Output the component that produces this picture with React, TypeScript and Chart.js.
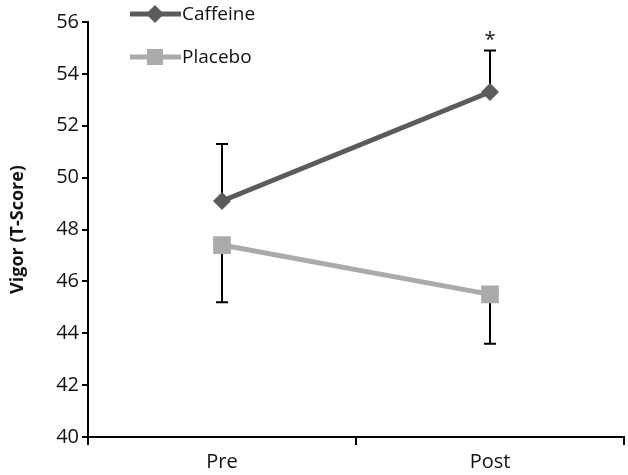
import React, { useEffect, useRef } from "react";
import { Chart, registerables } from "chart.js";

Chart.register(...registerables);

const categories = ["Pre", "Post"];
const caffeineValues = [49.1, 53.3];
const caffeineErrUp = [51.3, 54.9];
const placeboValues = [47.4, 45.5];
const placeboErrDown = [45.2, 43.6];
const significance = ["", "*"];
const yTicks = [40, 42, 44, 46, 48, 50, 52, 54, 56];

const FONT = "'Open Sans', 'Noto Sans', sans-serif";
const CAF = "#5b5b5b";
const PLA = "#ababab";

const errorBars = {
  id: "errorBars",
  beforeDatasetsDraw(chart: any) {
    const { ctx, scales } = chart;
    const x = scales.x;
    const y = scales.y;
    ctx.save();
    ctx.strokeStyle = "#000";
    ctx.lineWidth = 2;
    const draw = (vals: number[], ends: number[]) => {
      vals.forEach((v, i) => {
        const px = Math.round(x.getPixelForValue(i));
        const y0 = y.getPixelForValue(v);
        const y1 = y.getPixelForValue(ends[i]);
        ctx.beginPath();
        ctx.moveTo(px, y0);
        ctx.lineTo(px, y1);
        ctx.moveTo(px - 6, y1);
        ctx.lineTo(px + 6, y1);
        ctx.stroke();
      });
    };
    draw(caffeineValues, caffeineErrUp);
    draw(placeboValues, placeboErrDown);
    ctx.restore();
  },
  afterDraw(chart: any) {
    const { ctx, scales } = chart;
    const x = scales.x;
    const y = scales.y;
    ctx.save();
    ctx.fillStyle = "#111";
    ctx.font = `20px ${FONT}`;
    ctx.textAlign = "center";
    ctx.textBaseline = "middle";
    significance.forEach((s, i) => {
      if (!s) return;
      const px = x.getPixelForValue(i);
      const py = y.getPixelForValue(caffeineErrUp[i]) - 12;
      ctx.fillText(s, px, py + 2);
    });
    const items = [
      { label: "Caffeine", color: CAF, style: "diamond", yy: 14 },
      { label: "Placebo", color: PLA, style: "square", yy: 57 },
    ];
    items.forEach((it) => {
      ctx.strokeStyle = it.color;
      ctx.fillStyle = it.color;
      ctx.lineWidth = 5;
      ctx.beginPath();
      ctx.moveTo(130, it.yy);
      ctx.lineTo(181, it.yy);
      ctx.stroke();
      ctx.beginPath();
      if (it.style === "diamond") {
        ctx.moveTo(155 - 9, it.yy);
        ctx.lineTo(155, it.yy - 9);
        ctx.lineTo(155 + 9, it.yy);
        ctx.lineTo(155, it.yy + 9);
        ctx.closePath();
        ctx.fill();
      } else {
        ctx.fillRect(155 - 8, it.yy - 8, 16, 16);
      }
      ctx.fillStyle = "#111";
      ctx.font = `19px ${FONT}`;
      ctx.textAlign = "left";
      ctx.textBaseline = "middle";
      ctx.fillText(it.label, 182, it.yy + 1);
    });
    ctx.restore();
  },
};

export default function App() {
  const ref = useRef<HTMLCanvasElement>(null);
  useEffect(() => {
    if (!ref.current) return;
    const chart = new Chart(ref.current, {
      type: "line",
      data: {
        labels: categories,
        datasets: [
          {
            label: "Caffeine",
            data: caffeineValues,
            borderColor: CAF,
            backgroundColor: CAF,
            borderWidth: 5,
            pointStyle: "rectRot",
            pointRadius: 9,
            pointBorderWidth: 0,
            pointBackgroundColor: CAF,
          },
          {
            label: "Placebo",
            data: placeboValues,
            borderColor: PLA,
            backgroundColor: PLA,
            borderWidth: 5,
            pointStyle: "rect",
            pointRadius: 12.5,
            pointBorderWidth: 0,
            pointBackgroundColor: PLA,
          },
        ],
      },
      options: {
        responsive: false,
        animation: false,
        devicePixelRatio: 1,
        layout: { autoPadding: false, padding: { top: 22, right: 4, left: 0, bottom: 0 } },
        plugins: {
          legend: { display: false },
          tooltip: { enabled: false },
        },
        scales: {
          x: {
            type: "category",
            offset: true,
            grid: {
              offset: true,
              drawOnChartArea: false,
              drawTicks: true,
              tickLength: 8,
              color: "#000",
              lineWidth: 2,
            },
            border: { color: "#000", width: 2 },
            ticks: {
              color: "#111",
              font: { family: FONT, size: 20 },
              padding: 5,
            },
            afterFit(scale: any) {
              scale.height = 38;
            },
          },
          y: {
            min: 40,
            max: 56,
            afterBuildTicks(scale: any) {
              scale.ticks = yTicks.map((v) => ({ value: v }));
            },
            grid: {
              drawOnChartArea: false,
              drawTicks: true,
              tickLength: 6,
              color: "#000",
              lineWidth: 2,
            },
            border: { color: "#000", width: 2 },
            ticks: {
              color: "#111",
              font: { family: FONT, size: 20 },
              padding: 3,
            },
            title: {
              display: true,
              text: "Vigor (T-Score)",
              color: "#111",
              font: { family: FONT, size: 18, weight: "bold" },
              padding: { top: 7, bottom: 0 },
            },
            afterFit(scale: any) {
              scale.width = 88;
            },
          },
        },
      },
      plugins: [errorBars],
    });
    return () => chart.destroy();
  }, []);
  return (
    <div style={{ position: "absolute", left: 0, top: 0, width: 628, height: 475, background: "#fff" }}>
      <canvas ref={ref} width={628} height={475} />
    </div>
  );
}
